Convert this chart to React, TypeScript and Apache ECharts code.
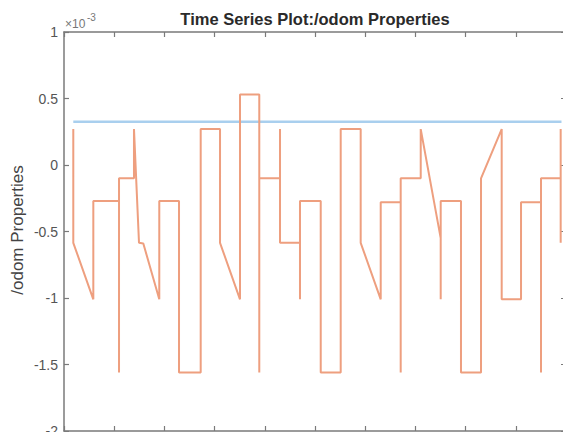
import { useEffect, useRef } from 'react';
import * as echarts from 'echarts';

// Orange series (values in units of 1e-3)
const TIMES = [
  0.185, 0.185, 0.584, 0.584, 1.096, 1.096, 1.096, 1.394, 1.394, 1.494, 1.58, 1.898, 1.898,
  2.291, 2.291, 2.723, 2.723, 3.108, 3.108, 3.506, 3.506, 3.89, 3.89, 3.89, 4.303, 4.303, 4.303,
  4.701, 4.701, 4.701, 5.114, 5.114, 5.512, 5.512, 5.91, 5.91, 6.309, 6.309, 6.707, 6.707, 6.707,
  7.106, 7.106, 7.504, 7.504, 7.504, 7.908, 7.908, 8.307, 8.307, 8.719, 8.719, 9.104, 9.104,
  9.502, 9.502, 9.502, 9.894, 9.894, 9.894,
];
const VALUES = [
  0.27, -0.585, -1.01, -0.27, -0.27, -1.56, -0.1, -0.1, 0.27, -0.585, -0.59, -1.01, -0.27,
  -0.27, -1.56, -1.56, 0.27, 0.27, -0.585, -1.01, 0.53, 0.53, -1.56, -0.1, -0.1, 0.27, -0.585,
  -0.585, -1.01, -0.27, -0.27, -1.56, -1.56, 0.27, 0.27, -0.585, -1.01, -0.28, -0.28, -1.56, -0.1,
  -0.1, 0.27, -0.55, -1.01, -0.27, -0.27, -1.56, -1.56, -0.1, 0.27, -1.01, -1.01, -0.28,
  -0.28, -1.56, -0.1, -0.1, 0.27, -0.585,
];
// Blue series
const REF_TIMES = [0.185, 9.91];
const REF_VALUES = [0.325, 0.325];

const X_MIN = 0;
const X_MAX = 10;
const Y_MIN = -2;
const Y_MAX = 1;

const TITLE = 'Time Series Plot:/odom Properties';
const Y_LABEL = '/odom Properties';

export default function App() {
  const ref = useRef<HTMLDivElement>(null);
  useEffect(() => {
    if (!ref.current) return;
    const chart = echarts.init(ref.current, null, { renderer: 'svg' });
    const font = '"Liberation Sans", Arial, Helvetica, sans-serif';
    const axisColor = '#7a7a7a';
    const tick = { show: true, inside: true, length: 5, lineStyle: { color: axisColor, width: 1.2 } };
    const line = { show: true, onZero: false, lineStyle: { color: axisColor, width: 1.5 } };
    chart.setOption({
      animation: false,
      backgroundColor: '#ffffff',
      grid: {
        left: 64, top: 32, width: 502, height: 399,
        containLabel: false, outerBoundsMode: 'none',
      },
      xAxis: [
        {
          type: 'value', min: X_MIN, max: X_MAX, interval: 1, position: 'bottom',
          axisLine: line, axisTick: tick, axisLabel: { show: false }, splitLine: { show: false },
        },
        {
          type: 'value', min: X_MIN, max: X_MAX, interval: 1, position: 'top',
          axisLine: line, axisTick: tick, axisLabel: { show: false }, splitLine: { show: false },
        },
      ],
      yAxis: [
        {
          type: 'value', min: Y_MIN, max: Y_MAX, interval: 0.5, position: 'left',
          axisLine: line, axisTick: tick, splitLine: { show: false },
          axisLabel: { color: '#555555', fontSize: 14, fontFamily: font, margin: 6 },
        },
        {
          type: 'value', min: Y_MIN, max: Y_MAX, interval: 0.5, position: 'right',
          axisLine: line, axisTick: tick, splitLine: { show: false }, axisLabel: { show: false },
        },
      ],
      series: [
        {
          type: 'line',
          data: REF_TIMES.map((t, i) => [t, REF_VALUES[i]]),
          showSymbol: false,
          lineStyle: { color: '#a9cfee', width: 2.5 },
          z: 2,
        },
        {
          type: 'line',
          data: TIMES.map((t, i) => [t, VALUES[i]]),
          showSymbol: false,
          lineStyle: { color: '#ee9f7f', width: 2 },
          z: 3,
        },
      ],
      graphic: [
        {
          type: 'text', x: 315, y: 19,
          style: {
            text: TITLE, fill: '#2a2a2a', font: `bold 16.5px ${font}`,
            align: 'center', verticalAlign: 'middle',
          },
        },
        {
          type: 'text', x: 17, y: 230, rotation: Math.PI / 2,
          style: {
            text: Y_LABEL, fill: '#444444', font: `17px ${font}`,
            align: 'center', verticalAlign: 'middle',
          },
        },
        {
          type: 'text', x: 65, y: 24,
          style: { text: '×10', fill: '#777777', font: `12px ${font}`, align: 'left', verticalAlign: 'middle' },
        },
        {
          type: 'text', x: 87, y: 17,
          style: { text: '-3', fill: '#777777', font: `10px ${font}`, align: 'left', verticalAlign: 'middle' },
        },
      ],
    });
    return () => chart.dispose();
  }, []);
  return (
    <div
      ref={ref}
      style={{ position: 'absolute', left: 0, top: 0, width: 563, height: 432, background: '#fff' }}
    />
  );
}
